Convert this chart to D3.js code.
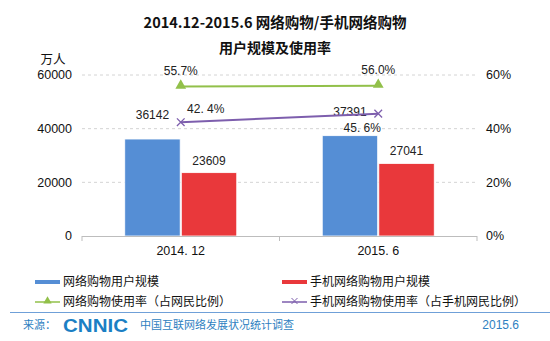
<!DOCTYPE html>
<html><head><meta charset="utf-8">
<script src="https://cdn.jsdelivr.net/npm/d3@7"></script>
<style>body{margin:0;background:#fff}svg{display:block}</style>
</head><body><svg id="c" width="550" height="341"></svg>
<script>
const categories = ["2014. 12", "2015. 6"];
const shopUsers = [36142, 37391];
const mobileShopUsers = [23609, 27041];
const shopRate = [55.7, 56.0];
const mobileShopRate = [42.4, 45.6];
const shopRateLabels = ["55.7%", "56.0%"];
const mobileRateLabels = ["42. 4%", "45. 6%"];
const leftTicks = [0, 20000, 40000, 60000];
const rightTicks = [0, 20, 40, 60];
const seriesNames = ["网络购物用户规模", "手机网络购物用户规模", "网络购物使用率（占网民比例）", "手机网络购物使用率（占手机网民比例）"];

const colors = {blue:"#558ED5", red:"#E9383B", green:"#92C04A", purple:"#7D5EAD"};
const font = "'Liberation Sans', Arial, 'Noto Sans CJK SC', sans-serif";
const cjk = "'Noto Sans CJK SC', sans-serif";

const svg = d3.select("#c");

const x0 = d3.scaleBand().domain(categories).range([82, 477]);
const bw = x0.bandwidth();
const x1 = d3.scaleBand().domain([0, 1]).range([bw / 2 - 56, bw / 2 + 56]).paddingInner(0.02);
const y = d3.scaleLinear().domain([0, 60000]).range([236, 75]);
const yr = d3.scaleLinear().domain([0, 60]).range([236, 75]);

// title
svg.append("text").attr("x", 275).attr("y", 28).attr("text-anchor", "middle")
  .attr("font-family", cjk).attr("font-weight", "bold").attr("font-size", 14.5).attr("fill", "#111")
  .text("2014.12-2015.6 网络购物/手机网络购物");
svg.append("text").attr("x", 275).attr("y", 53).attr("text-anchor", "middle")
  .attr("font-family", cjk).attr("font-weight", "bold").attr("font-size", 14).attr("fill", "#111")
  .text("用户规模及使用率");
svg.append("text").attr("x", 53).attr("y", 64).attr("text-anchor", "middle")
  .attr("font-family", cjk).attr("font-size", 12.5).attr("fill", "#111").text("万人");

// gridlines
svg.append("g").selectAll("line").data(leftTicks.filter(d => d > 0)).join("line")
  .attr("x1", 82).attr("x2", 477).attr("y1", d => y(d)).attr("y2", d => y(d))
  .attr("stroke", "#D4D4D4").attr("stroke-dasharray", "3,3");

// left axis labels
svg.append("g").selectAll("text").data(leftTicks).join("text")
  .attr("x", 72).attr("y", d => y(d)).attr("dy", "0.35em").attr("text-anchor", "end")
  .attr("font-family", font).attr("font-size", 12.5).attr("fill", "#111").text(d => d);
// right axis labels
svg.append("g").selectAll("text").data(rightTicks).join("text")
  .attr("x", 486).attr("y", d => yr(d)).attr("dy", "0.35em")
  .attr("font-family", font).attr("font-size", 12.5).attr("fill", "#111").text(d => d + "%");

// bars
const g = svg.append("g");
categories.forEach((c, i) => {
  const bx = x0(c);
  [[shopUsers[i], colors.blue, 0], [mobileShopUsers[i], colors.red, 1]].forEach(([v, col, k]) => {
    g.append("rect").attr("x", bx + x1(k)).attr("y", y(v)).attr("width", x1.bandwidth())
      .attr("height", y(0) - y(v)).attr("fill", col).attr("stroke", "#fff").attr("stroke-width", 0.8);
  });
});

// x axis
svg.append("line").attr("x1", 82).attr("x2", 477).attr("y1", 236.5).attr("y2", 236.5).attr("stroke", "#BDBDBD");
[82, x0(categories[1]), 477].forEach(t => svg.append("line").attr("x1", t).attr("x2", t)
  .attr("y1", 236).attr("y2", 241).attr("stroke", "#BDBDBD"));
svg.append("g").selectAll("text").data(categories).join("text")
  .attr("x", d => x0(d) + bw / 2).attr("y", 255).attr("text-anchor", "middle")
  .attr("font-family", font).attr("font-size", 12.5).attr("fill", "#111").text(d => d);

// bar labels
categories.forEach((c, i) => {
  const bx = x0(c);
  svg.append("text").attr("x", bx + x1(0) + x1.bandwidth() / 2).attr("y", y(shopUsers[i]) - 20)
    .attr("text-anchor", "middle").attr("font-family", font).attr("font-size", 12).attr("fill", "#222").text(shopUsers[i]);
  svg.append("text").attr("x", bx + x1(1) + x1.bandwidth() / 2).attr("y", y(mobileShopUsers[i]) - 8)
    .attr("text-anchor", "middle").attr("font-family", font).attr("font-size", 12).attr("fill", "#222").text(mobileShopUsers[i]);
});

// lines
const cx = c => x0(c) + bw / 2;
const line = d3.line().x((d, i) => cx(categories[i])).y(d => yr(d));
svg.append("path").attr("d", line(shopRate)).attr("fill", "none").attr("stroke", colors.green).attr("stroke-width", 2);
svg.append("path").attr("d", line(mobileShopRate)).attr("fill", "none").attr("stroke", colors.purple).attr("stroke-width", 2);
const tri = d3.symbol().type(d3.symbolTriangle).size(50);
shopRate.forEach((v, i) => svg.append("path").attr("d", tri())
  .attr("transform", `translate(${cx(categories[i])},${yr(v) - 1})`).attr("fill", colors.green));
const cross = d3.symbol().type(d3.symbolX).size(40);
mobileShopRate.forEach((v, i) => svg.append("path").attr("d", cross())
  .attr("transform", `translate(${cx(categories[i])},${yr(v)})`).attr("fill", "none").attr("stroke", colors.purple).attr("stroke-width", 1.3));

// rate labels
shopRate.forEach((v, i) => svg.append("text").attr("x", cx(categories[i])).attr("y", yr(v) - 12)
  .attr("text-anchor", "middle").attr("font-family", font).attr("font-size", 12).attr("fill", "#222").text(shopRateLabels[i]));
const mOff = [[25, -9], [-16, 18]];
mobileShopRate.forEach((v, i) => svg.append("text").attr("x", cx(categories[i]) + mOff[i][0]).attr("y", yr(v) + mOff[i][1])
  .attr("text-anchor", "middle").attr("font-family", font).attr("font-size", 12).attr("fill", "#222").text(mobileRateLabels[i]));

// legend
const lg = svg.append("g").attr("font-family", cjk).attr("font-size", 12).attr("fill", "#111");
const legendItems = [
  {x: 35, y: 282, type: "bar", color: colors.blue, name: seriesNames[0]},
  {x: 282, y: 282, type: "bar", color: colors.red, name: seriesNames[1]},
  {x: 35, y: 302, type: "tri", color: colors.green, name: seriesNames[2]},
  {x: 282, y: 302, type: "x", color: colors.purple, name: seriesNames[3]}
];
legendItems.forEach(it => {
  if (it.type === "bar") {
    lg.append("rect").attr("x", it.x).attr("y", it.y - 2).attr("width", 25).attr("height", 4).attr("fill", it.color);
  } else {
    lg.append("line").attr("x1", it.x).attr("x2", it.x + 25).attr("y1", it.y).attr("y2", it.y).attr("stroke", it.color).attr("stroke-width", 1.5);
    const s = it.type === "tri" ? d3.symbol().type(d3.symbolTriangle).size(30) : d3.symbol().type(d3.symbolX).size(25);
    lg.append("path").attr("d", s()).attr("transform", `translate(${it.x + 12.5},${it.y - 1})`)
      .attr("fill", it.type === "tri" ? it.color : "none").attr("stroke", it.type === "tri" ? "none" : it.color);
  }
  lg.append("text").attr("x", it.x + 28).attr("y", it.y).attr("dy", "0.35em").text(it.name);
});

// footer
svg.append("line").attr("x1", 10).attr("x2", 550).attr("y1", 312.5).attr("y2", 312.5).attr("stroke", "#6FA0D8").attr("stroke-width", 1.2);
svg.append("text").attr("x", 23).attr("y", 325).attr("dy", "0.35em").attr("font-family", cjk)
  .attr("font-size", 11).attr("fill", "#2E7FC1").text("来源：");
svg.append("text").attr("x", 63).attr("y", 325).attr("dy", "0.36em").attr("font-family", font)
  .attr("font-weight", "bold").attr("font-size", 19).attr("fill", "#1B7FC4")
  .attr("textLength", 65).attr("lengthAdjust", "spacingAndGlyphs").text("CNNIC");
svg.append("text").attr("x", 140).attr("y", 325).attr("dy", "0.35em").attr("font-family", cjk)
  .attr("font-size", 11).attr("fill", "#2E7FC1").text("中国互联网络发展状况统计调查");
svg.append("text").attr("x", 519).attr("y", 325).attr("dy", "0.35em").attr("text-anchor", "end").attr("font-family", font)
  .attr("font-size", 12).attr("fill", "#2E7FC1").text("2015.6");
</script></body></html>
